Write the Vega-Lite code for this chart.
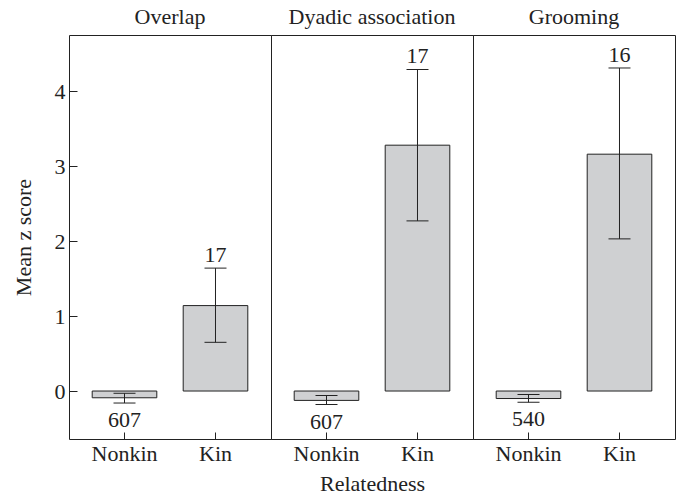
{
  "$schema": "https://vega.github.io/schema/vega-lite/v6.json",
  "padding": {"left": 11, "top": 5, "right": 5, "bottom": 0},
  "bounds": "flush",
  "spacing": 0,
  "data": {"values": [
    {"measure": "Overlap", "rel": "Nonkin", "mean": -0.09, "lo": -0.16, "hi": -0.03, "n": "607"},
    {"measure": "Overlap", "rel": "Kin", "mean": 1.14, "lo": 0.65, "hi": 1.64, "n": "17"},
    {"measure": "Dyadic association", "rel": "Nonkin", "mean": -0.125, "lo": -0.18, "hi": -0.06, "n": "607"},
    {"measure": "Dyadic association", "rel": "Kin", "mean": 3.28, "lo": 2.27, "hi": 4.29, "n": "17"},
    {"measure": "Grooming", "rel": "Nonkin", "mean": -0.1, "lo": -0.15, "hi": -0.045, "n": "540"},
    {"measure": "Grooming", "rel": "Kin", "mean": 3.16, "lo": 2.03, "hi": 4.31, "n": "16"}
  ]},
  "resolve": {"scale": {"x": "independent", "y": "independent"}},
  "hconcat": [
    {
      "title": {"text": "Overlap"},
      "width": 202,
      "height": 404,
      "transform": [{"filter": "datum.measure === 'Overlap'"}],
      "encoding": {
        "x": {"field": "rel", "type": "nominal", "sort": ["Nonkin", "Kin"], "scale": {"paddingInner": 0.29, "paddingOuter": 0.255}, "axis": {"title": null}},
        "y": {"type": "quantitative", "scale": {"domain": [-0.64, 4.75], "nice": false, "zero": false},
          "axis": {"title": "Mean z score", "values": [0, 1, 2, 3, 4], "format": "d"}}
      },
      "layer": [
        {"mark": {"type": "bar", "fill": "#cfd0d2", "stroke": "#222", "strokeWidth": 1},
         "encoding": {"y": {"field": "mean", "type": "quantitative"}, "y2": {"datum": 0}}},
        {"mark": {"type": "rule", "color": "#222", "strokeWidth": 1},
         "encoding": {"y": {"field": "lo", "type": "quantitative"}, "y2": {"field": "hi"}}},
        {"mark": {"type": "tick", "orient": "horizontal", "color": "#222", "size": 22, "thickness": 1, "opacity": 1},
         "encoding": {"y": {"field": "lo", "type": "quantitative"}}},
        {"mark": {"type": "tick", "orient": "horizontal", "color": "#222", "size": 22, "thickness": 1, "opacity": 1},
         "encoding": {"y": {"field": "hi", "type": "quantitative"}}},
        {"transform": [{"filter": "datum.rel === 'Kin'"}],
         "mark": {"type": "text", "fontSize": 22, "color": "#222", "baseline": "alphabetic", "dy": -6},
         "encoding": {"y": {"field": "hi", "type": "quantitative"}, "text": {"field": "n"}}},
        {"transform": [{"filter": "datum.rel === 'Nonkin'"}],
         "mark": {"type": "text", "fontSize": 22, "color": "#222", "baseline": "alphabetic", "dy": 24},
         "encoding": {"y": {"field": "lo", "type": "quantitative"}, "text": {"field": "n"}}}
      ]
    },
    {
      "title": {"text": "Dyadic association"},
      "width": 202,
      "height": 404,
      "transform": [{"filter": "datum.measure === 'Dyadic association'"}],
      "encoding": {
        "x": {"field": "rel", "type": "nominal", "sort": ["Nonkin", "Kin"], "scale": {"paddingInner": 0.29, "paddingOuter": 0.255}, "axis": {"title": "Relatedness"}},
        "y": {"type": "quantitative", "scale": {"domain": [-0.64, 4.75], "nice": false, "zero": false}, "axis": null}
      },
      "layer": [
        {"mark": {"type": "bar", "fill": "#cfd0d2", "stroke": "#222", "strokeWidth": 1},
         "encoding": {"y": {"field": "mean", "type": "quantitative"}, "y2": {"datum": 0}}},
        {"mark": {"type": "rule", "color": "#222", "strokeWidth": 1},
         "encoding": {"y": {"field": "lo", "type": "quantitative"}, "y2": {"field": "hi"}}},
        {"mark": {"type": "tick", "orient": "horizontal", "color": "#222", "size": 22, "thickness": 1, "opacity": 1},
         "encoding": {"y": {"field": "lo", "type": "quantitative"}}},
        {"mark": {"type": "tick", "orient": "horizontal", "color": "#222", "size": 22, "thickness": 1, "opacity": 1},
         "encoding": {"y": {"field": "hi", "type": "quantitative"}}},
        {"transform": [{"filter": "datum.rel === 'Kin'"}],
         "mark": {"type": "text", "fontSize": 22, "color": "#222", "baseline": "alphabetic", "dy": -6},
         "encoding": {"y": {"field": "hi", "type": "quantitative"}, "text": {"field": "n"}}},
        {"transform": [{"filter": "datum.rel === 'Nonkin'"}],
         "mark": {"type": "text", "fontSize": 22, "color": "#222", "baseline": "alphabetic", "dy": 24},
         "encoding": {"y": {"field": "lo", "type": "quantitative"}, "text": {"field": "n"}}}
      ]
    },
    {
      "title": {"text": "Grooming"},
      "width": 202,
      "height": 404,
      "transform": [{"filter": "datum.measure === 'Grooming'"}],
      "encoding": {
        "x": {"field": "rel", "type": "nominal", "sort": ["Nonkin", "Kin"], "scale": {"paddingInner": 0.29, "paddingOuter": 0.255}, "axis": {"title": null}},
        "y": {"type": "quantitative", "scale": {"domain": [-0.64, 4.75], "nice": false, "zero": false}, "axis": null}
      },
      "layer": [
        {"mark": {"type": "bar", "fill": "#cfd0d2", "stroke": "#222", "strokeWidth": 1},
         "encoding": {"y": {"field": "mean", "type": "quantitative"}, "y2": {"datum": 0}}},
        {"mark": {"type": "rule", "color": "#222", "strokeWidth": 1},
         "encoding": {"y": {"field": "lo", "type": "quantitative"}, "y2": {"field": "hi"}}},
        {"mark": {"type": "tick", "orient": "horizontal", "color": "#222", "size": 22, "thickness": 1, "opacity": 1},
         "encoding": {"y": {"field": "lo", "type": "quantitative"}}},
        {"mark": {"type": "tick", "orient": "horizontal", "color": "#222", "size": 22, "thickness": 1, "opacity": 1},
         "encoding": {"y": {"field": "hi", "type": "quantitative"}}},
        {"transform": [{"filter": "datum.rel === 'Kin'"}],
         "mark": {"type": "text", "fontSize": 22, "color": "#222", "baseline": "alphabetic", "dy": -6},
         "encoding": {"y": {"field": "hi", "type": "quantitative"}, "text": {"field": "n"}}},
        {"transform": [{"filter": "datum.rel === 'Nonkin'"}],
         "mark": {"type": "text", "fontSize": 22, "color": "#222", "baseline": "alphabetic", "dy": 24},
         "encoding": {"y": {"field": "lo", "type": "quantitative"}, "text": {"field": "n"}}}
      ]
    }
  ],
  "config": {
    "font": "Liberation Serif",
    "view": {"stroke": "#222", "strokeWidth": 1},
    "title": {"font": "Liberation Serif", "fontSize": 22, "fontWeight": "normal", "color": "#222", "anchor": "middle", "offset": 6},
    "axis": {
      "grid": false,
      "domain": false,
      "labelFont": "Liberation Serif",
      "labelFontSize": 22,
      "labelColor": "#222",
      "tickColor": "#222",
      "titleFont": "Liberation Serif",
      "titleFontSize": 22,
      "titleFontWeight": "normal",
      "titleColor": "#222"
    },
    "axisX": {"labelAngle": 0, "tickSize": -7, "labelPadding": 11, "titlePadding": 9},
    "axisY": {"tickSize": -8, "labelPadding": 12, "titlePadding": 19}
  }
}
